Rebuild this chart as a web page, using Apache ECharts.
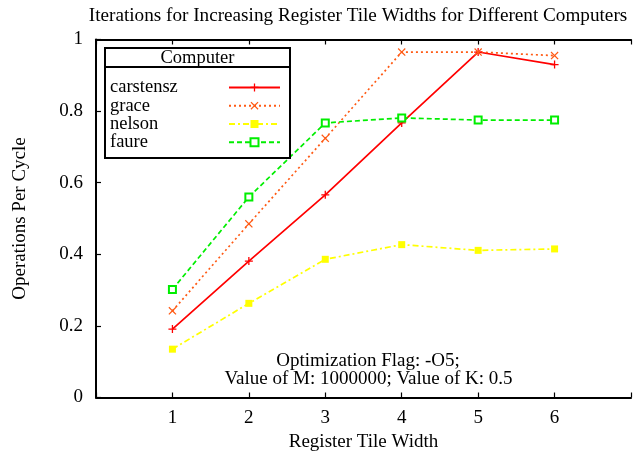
<!DOCTYPE html>
<html>
<head>
<meta charset="utf-8">
<script src="https://cdn.jsdelivr.net/npm/echarts@6/dist/echarts.min.js"></script>
<style>html,body{margin:0;padding:0;background:#fff;}#c{width:634px;height:459px;}</style>
</head>
<body>
<div id="c"></div>
<script>
const widths = [1, 2, 3, 4, 5, 6];
const seriesNames = ['carstensz', 'grace', 'nelson', 'faure'];
const carstensz = [0.191, 0.381, 0.566, 0.767, 0.965, 0.930];
const grace = [0.242, 0.485, 0.724, 0.965, 0.965, 0.955];
const nelson = [0.135, 0.263, 0.386, 0.427, 0.411, 0.415];
const faure = [0.302, 0.560, 0.767, 0.781, 0.775, 0.775];
const yTicks = [0, 0.2, 0.4, 0.6, 0.8, 1];
const xTicks = [1, 2, 3, 4, 5, 6];

const FONT = '"Liberation Serif", "DejaVu Serif", serif';
const PLUS = 'path://M4.2,0H5.8V4.2H10V5.8H5.8V10H4.2V5.8H0V4.2H4.2Z';
const CROSS = 'path://M1.1,0L5,3.9L8.9,0L10,1.1L6.1,5L10,8.9L8.9,10L5,6.1L1.1,10L0,8.9L3.9,5L0,1.1Z';

function mk(name, vals, color, dash, symbol, size) {
  return {
    name: name, type: 'line',
    data: widths.map((w, i) => [w, vals[i]]),
    symbol: symbol, symbolSize: size,
    lineStyle: {color: color, width: 1.7, type: dash},
    itemStyle: {color: color, borderColor: color, borderWidth: symbol === 'emptyRect' ? 1.6 : 0},
    emphasis: {disabled: true},
    animation: false,
    z: 3
  };
}

const legendText = {fontFamily: FONT, fontSize: 18.5, color: '#000'};

const chart = echarts.init(document.getElementById('c'));
chart.setOption({
  animation: false,
  backgroundColor: '#fff',
  textStyle: {fontFamily: FONT},
  grid: {left: 96, top: 39.5, width: 544.5, height: 358, containLabel: false},
  xAxis: [{
    type: 'value', min: 0, max: 7, interval: 1, position: 'bottom',
    name: 'Register Tile Width', nameLocation: 'middle', nameGap: 34,
    nameTextStyle: {fontFamily: FONT, fontSize: 19, color: '#000'},
    axisLine: {show: true, lineStyle: {color: '#000', width: 2}},
    axisTick: {show: true, inside: true, length: 5, lineStyle: {color: '#000', width: 1.2}},
    axisLabel: {fontFamily: FONT, fontSize: 19, color: '#000', margin: 11,
      formatter: v => xTicks.indexOf(v) >= 0 ? String(v) : ''},
    splitLine: {show: false}
  }, {
    type: 'value', min: 0, max: 7, interval: 1, position: 'top',
    axisLine: {show: true, onZero: false, lineStyle: {color: '#000', width: 2}},
    axisTick: {show: true, inside: true, length: 5, lineStyle: {color: '#000', width: 1.2}},
    axisLabel: {show: false},
    splitLine: {show: false}
  }],
  yAxis: {
    type: 'value', min: 0, max: 1, interval: 0.2,
    name: 'Operations Per Cycle', nameLocation: 'middle', nameGap: 66, nameRotate: 90,
    nameTextStyle: {fontFamily: FONT, fontSize: 19, color: '#000'},
    axisLine: {show: true, lineStyle: {color: '#000', width: 2}},
    axisTick: {show: true, inside: true, length: 5, lineStyle: {color: '#000', width: 1.2}},
    axisLabel: {fontFamily: FONT, fontSize: 19, color: '#000', margin: 13,
      formatter: v => { const r = yTicks.find(t => Math.abs(t - v) < 1e-9); return r === undefined ? '' : String(r); }},
    splitLine: {show: false}
  },
  title: {
    text: 'Iterations for Increasing Register Tile Widths for Different Computers',
    left: 353, top: 1, textAlign: 'center',
    textStyle: {fontFamily: FONT, fontSize: 19.2, fontWeight: 'normal', color: '#000'}
  },
  legend: [{
    orient: 'vertical', left: 105, top: 77.9, align: 'left', padding: 0,
    icon: 'none', itemWidth: 0, itemHeight: 10, itemGap: -0.7,
    textStyle: legendText,
    data: seriesNames, selectedMode: false, z: 5
  }, {
    orient: 'vertical', left: 228, top: 77.9, align: 'left', padding: 0,
    itemWidth: 51, itemHeight: 10, itemGap: -0.7,
    formatter: () => ' ',
    textStyle: legendText,
    data: seriesNames, selectedMode: false, z: 5
  }],
  graphic: [
    {type: 'rect', shape: {x: 105, y: 48, width: 185, height: 110}, style: {fill: '#fff', stroke: '#000', lineWidth: 2}, z: 3.5},
    {type: 'line', shape: {x1: 105, y1: 67, x2: 290, y2: 67}, style: {stroke: '#000', lineWidth: 2}, z: 3.6},
    {type: 'text', x: 197.5, y: 58, style: {text: 'Computer', fontFamily: FONT, fontSize: 18.5, fill: '#000', align: 'center', verticalAlign: 'middle'}, z: 3.6},
    {type: 'text', x: 368, y: 361, style: {text: 'Optimization Flag: -O5;', fontFamily: FONT, fontSize: 19, fill: '#000', align: 'center', verticalAlign: 'middle'}, z: 6},
    {type: 'text', x: 368.5, y: 379, style: {text: 'Value of M: 1000000; Value of K: 0.5', fontFamily: FONT, fontSize: 19, fill: '#000', align: 'center', verticalAlign: 'middle'}, z: 6}
  ],
  series: [
    mk('carstensz', carstensz, '#ff0000', 'solid', PLUS, 8),
    mk('grace', grace, '#ff5a14', [2, 3], CROSS, 8),
    mk('nelson', nelson, '#ffff00', [6, 3, 2, 3], 'rect', 7),
    mk('faure', faure, '#00ee00', [5, 3], 'emptyRect', 7)
  ]
});
</script>
</body>
</html>
